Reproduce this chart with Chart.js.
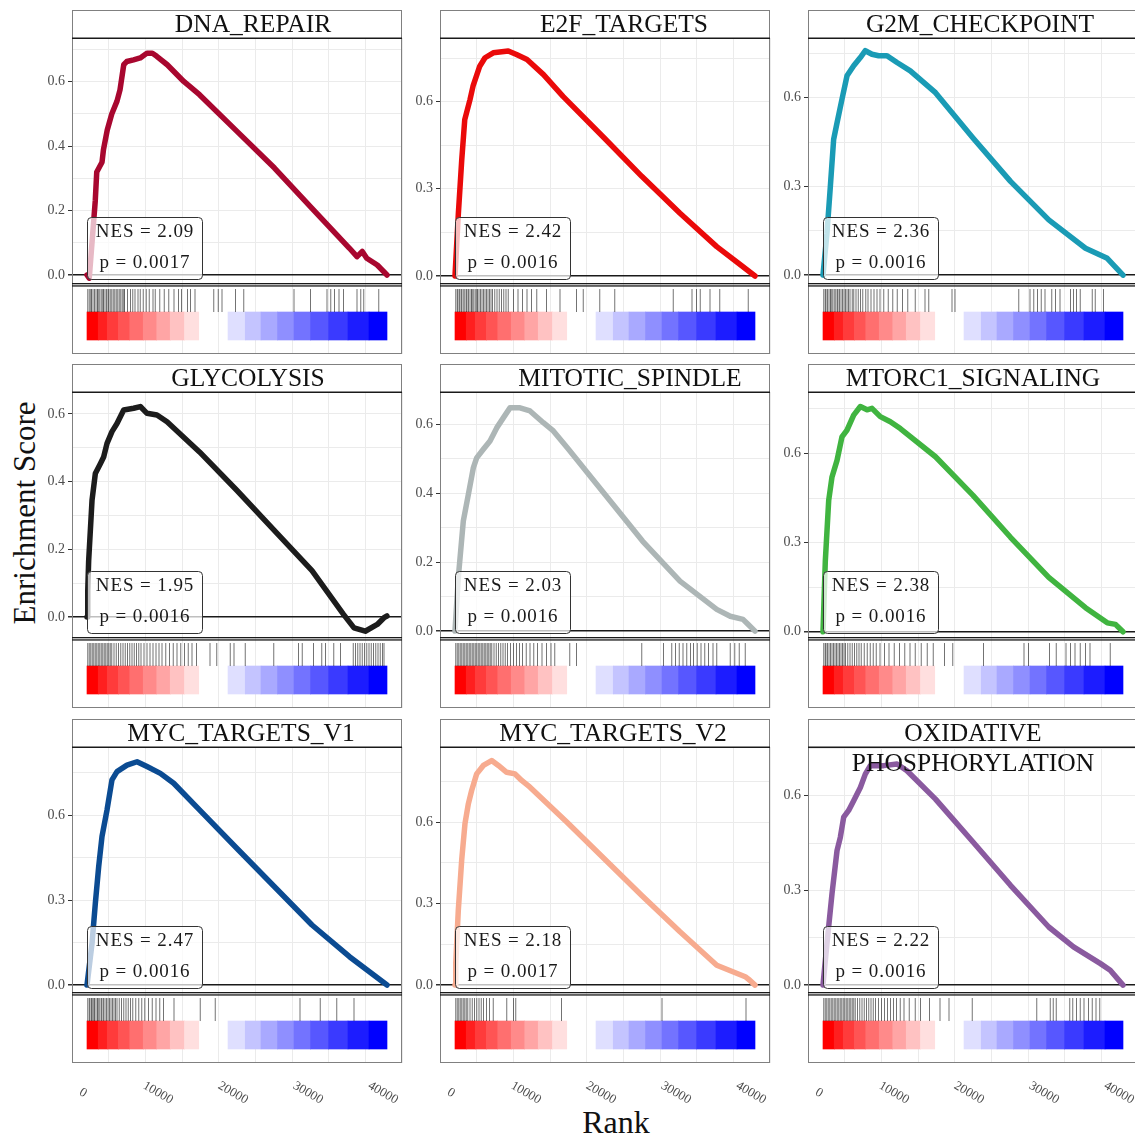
<!DOCTYPE html>
<html lang="en">
<head>
<meta charset="UTF-8">
<title>GSEA hallmark enrichment plots</title>
<script src="https://cdn.jsdelivr.net/npm/chart.js@4"></script>
<style>
  html, body { margin: 0; padding: 0; background: #fff; overflow: hidden; }
  body { width: 1135px; height: 1137px; position: relative; }
  canvas { position: absolute; }
  .axis-title { position: absolute; font-family: "Liberation Serif", serif; color: #111; white-space: nowrap; }
  #ylab { left: 25px; top: 513px; font-size: 31px; transform: translate(-50%, -50%) rotate(-90deg); }
  #xlab { left: 616px; top: 1122px; font-size: 32px; transform: translate(-50%, -50%); }
</style>
</head>
<body>
<div id="ylab" class="axis-title">Enrichment Score</div>
<div id="xlab" class="axis-title">Rank</div>
<script>
// gene sets, in panel order (left to right, top to bottom)
const titles = ['DNA_REPAIR', 'E2F_TARGETS', 'G2M_CHECKPOINT', 'GLYCOLYSIS', 'MITOTIC_SPINDLE',
  'MTORC1_SIGNALING', 'MYC_TARGETS_V1', 'MYC_TARGETS_V2', 'OXIDATIVE\nPHOSPHORYLATION'];
const nesValues = ['2.09', '2.42', '2.36', '1.95', '2.03', '2.38', '2.47', '2.18', '2.22'];
const pValues = ['0.0017', '0.0016', '0.0016', '0.0016', '0.0016', '0.0016', '0.0016', '0.0017', '0.0016'];
const curveColors = ['#a8072f', '#ea0a0a', '#1a9bb5', '#1c1c1c', '#adb6b6', '#40b440', '#0b4b92', '#f7ab8f', '#8a5a9f'];

// running enrichment score: [rank, ES]
const esDnaRepair = [[0,0],[300,-0.01],[700,0.11],[1100,0.23],[1300,0.32],[2000,0.35],[2200,0.39],[2700,0.45],[3300,0.50],[4000,0.54],[4400,0.575],[4900,0.653],[5300,0.663],[6200,0.668],[7100,0.674],[8000,0.689],[8700,0.689],[9300,0.679],[10700,0.653],[12900,0.601],[15000,0.560],[20000,0.446],[25000,0.332],[30000,0.207],[35000,0.083],[36000,0.057],[36700,0.073],[37300,0.052],[38700,0.031],[40000,0]];
const esE2f = [[0,0],[450,0.216],[900,0.40],[1300,0.538],[2000,0.607],[2400,0.653],[3300,0.722],[4000,0.751],[5100,0.768],[7100,0.774],[8200,0.762],[9600,0.745],[11800,0.693],[14400,0.618],[19900,0.475],[24900,0.343],[30000,0.216],[34900,0.101],[38400,0.032],[40000,0]];
const esG2m = [[0,0],[530,0.142],[980,0.30],[1420,0.459],[1870,0.515],[2530,0.595],[3200,0.674],[4090,0.708],[4980,0.736],[5640,0.759],[6530,0.747],[7420,0.742],[8530,0.742],[9870,0.719],[11640,0.691],[15000,0.617],[20000,0.464],[25000,0.317],[30100,0.187],[35000,0.091],[37900,0.057],[40000,0]];
const esGlycolysis = [[0,0],[100,0.077],[220,0.166],[670,0.345],[1110,0.424],[1780,0.453],[2220,0.473],[2670,0.513],[3330,0.548],[4000,0.572],[4890,0.612],[6220,0.617],[7110,0.622],[8000,0.602],[9330,0.597],[10670,0.577],[15000,0.488],[20000,0.374],[25000,0.255],[30000,0.137],[34200,0.008],[35600,-0.032],[37100,-0.042],[38700,-0.022],[39600,-0.002],[40000,0.003]];
const esMitotic = [[0,0],[440,0.155],[1110,0.319],[1780,0.396],[2440,0.473],[2890,0.502],[3780,0.527],[4670,0.551],[5560,0.589],[6440,0.618],[7330,0.647],[8670,0.647],[10000,0.638],[11780,0.604],[13110,0.580],[15000,0.531],[20000,0.396],[25000,0.261],[30000,0.145],[34900,0.063],[36700,0.043],[38400,0.034],[39100,0.019],[40000,0]];
const esMtorc1 = [[0,0],[310,0.239],[760,0.442],[1200,0.521],[1870,0.577],[2530,0.656],[3200,0.679],[4090,0.729],[4980,0.758],[5870,0.747],[6530,0.752],[7640,0.724],[8980,0.707],[10310,0.684],[15000,0.589],[20000,0.459],[25000,0.318],[30100,0.183],[35000,0.081],[37900,0.030],[39000,0.025],[40000,0]];
const esMycV1 = [[0,0],[670,0.147],[1110,0.288],[1560,0.418],[2000,0.524],[2670,0.618],[3330,0.724],[4000,0.753],[5330,0.776],[6670,0.788],[8000,0.771],[9780,0.747],[11560,0.712],[15000,0.618],[20000,0.482],[25000,0.347],[30000,0.212],[35000,0.10],[40000,0]];
const esMycV2 = [[0,0],[100,0.08],[440,0.275],[890,0.459],[1330,0.594],[1780,0.667],[2220,0.716],[2890,0.777],[3780,0.808],[4890,0.826],[5780,0.808],[6890,0.783],[8000,0.777],[8890,0.753],[10000,0.728],[14900,0.600],[19900,0.465],[24900,0.330],[30000,0.196],[34900,0.073],[38700,0.031],[39300,0.018],[40000,0]];
const esOxphos = [[0,0],[530,0.132],[1200,0.289],[1870,0.426],[2310,0.468],[2760,0.532],[3420,0.553],[4090,0.584],[4980,0.626],[5640,0.668],[6310,0.695],[8090,0.695],[9870,0.70],[11200,0.679],[15000,0.589],[20000,0.453],[25000,0.316],[30100,0.184],[33400,0.121],[37000,0.068],[38300,0.047],[40000,0]];
const esSeries = [esDnaRepair, esE2f, esG2m, esGlycolysis, esMitotic, esMtorc1, esMycV1, esMycV2, esOxphos];

// gene set members along the ranked list (rank in thousands)
const hitsDnaRepair = [0.1,0.3,0.5,0.6,0.8,1.0,1.2,1.4,1.5,1.7,1.9,2.1,2.2,2.4,2.6,2.8,2.9,3.1,3.3,3.5,3.7,3.9,4.1,4.3,4.5,4.7,4.9,5.0,5.4,5.8,6.1,6.4,6.8,7.1,7.5,7.9,8.3,8.8,9.1,9.7,10.3,10.9,11.6,12.2,12.6,13.4,13.8,14.4,16.9,17.5,18.0,19.8,20.9,27.6,29.8,32.0,32.5,33.0,33.6,34.2,36.0,36.5,36.9,38.9];
const hitsE2f = [0.1,0.3,0.4,0.6,0.8,0.9,1.1,1.3,1.5,1.6,1.8,2.0,2.2,2.3,2.5,2.7,2.9,3.0,3.2,3.4,3.6,3.8,4.0,4.2,4.4,4.6,4.8,5.0,5.3,5.6,5.9,6.2,6.5,6.8,7.1,7.8,8.4,9.0,9.6,10.2,10.9,12.2,14.0,16.2,17.1,19.3,21.3,29.1,31.6,32.2,32.7,34.0,35.3,39.1];
const hitsG2m = [0.1,0.3,0.4,0.6,0.8,1.0,1.1,1.3,1.5,1.7,1.9,2.0,2.2,2.4,2.6,2.8,3.0,3.2,3.4,3.6,3.9,4.1,4.4,4.7,5.0,5.3,5.7,6.0,6.4,6.8,7.2,7.6,8.1,8.7,9.3,9.9,10.6,11.3,12.3,13.6,14.1,17.2,17.6,26.1,27.6,28.1,28.6,29.1,29.6,30.5,31.0,31.6,33.0,33.4,33.8,34.3,35.9,36.3,37.4];
const hitsGlycolysis = [0.1,0.3,0.5,0.7,0.9,1.1,1.3,1.5,1.7,1.9,2.1,2.3,2.5,2.7,2.9,3.1,3.3,3.6,3.9,4.2,4.5,4.8,5.1,5.4,5.7,6.0,6.3,6.6,6.9,7.2,7.6,8.0,8.4,8.8,9.2,9.6,10.0,10.5,11.0,11.5,12.0,12.5,13.0,13.5,14.0,14.6,16.4,17.3,19.1,19.6,21.1,24.9,28.2,28.7,30.2,31.3,31.8,32.9,33.8,35.5,35.8,36.1,36.4,36.7,37.0,37.3,37.6,37.9,38.2,38.5,38.8,39.1,39.4,39.6];
const hitsMitotic = [0.1,0.3,0.5,0.7,0.9,1.1,1.3,1.5,1.7,1.9,2.1,2.3,2.5,2.7,2.9,3.1,3.3,3.5,3.7,3.9,4.1,4.3,4.5,4.7,4.9,5.2,5.5,5.8,6.1,6.4,6.7,7.0,7.4,7.8,8.2,8.6,9.0,9.5,10.0,10.5,11.0,11.6,12.2,12.8,13.3,15.3,16.2,24.9,27.8,28.9,29.4,29.9,30.4,30.9,31.4,31.8,32.3,32.8,33.3,33.8,34.4,34.9,36.7,37.3,37.9,38.7];
const hitsMtorc1 = [0.1,0.3,0.4,0.6,0.8,1.0,1.2,1.4,1.6,1.8,2.0,2.2,2.4,2.6,2.8,3.0,3.3,3.6,3.9,4.2,4.5,4.8,5.1,5.5,5.9,6.3,6.7,7.1,7.6,8.2,8.8,9.5,10.2,10.9,11.6,12.3,13.1,13.9,14.7,16.2,17.3,21.4,26.8,27.4,30.2,31.1,32.4,33.0,33.6,34.3,35.0,35.6,38.3];
const hitsMycV1 = [0.1,0.3,0.4,0.6,0.7,0.9,1.0,1.2,1.4,1.5,1.7,1.9,2.0,2.2,2.4,2.6,2.8,3.0,3.2,3.4,3.6,3.8,4.0,4.3,4.6,4.9,5.2,5.5,5.8,6.1,6.5,6.9,7.3,7.7,8.2,8.7,9.2,9.7,10.2,11.6,15.1,17.1,28.4,31.1,33.3,35.6];
const hitsMycV2 = [0.1,0.3,0.5,0.7,0.9,1.1,1.3,1.5,1.7,2.0,2.3,2.6,2.9,3.2,3.5,3.8,4.2,4.6,5.1,6.9,7.8,8.1,14.2,27.6,38.8];
const hitsOxphos = [0.1,0.3,0.5,0.7,0.9,1.1,1.3,1.5,1.7,1.9,2.1,2.3,2.5,2.7,2.9,3.1,3.3,3.5,3.7,3.9,4.1,4.3,4.6,4.9,5.2,5.5,5.8,6.1,6.4,6.7,7.0,7.4,7.8,8.2,8.6,9.0,9.4,9.8,10.3,10.8,11.5,12.3,13.0,14.2,15.6,16.8,19.9,28.5,30.3,30.7,31.1,32.9,33.3,33.8,34.3,34.8,35.4,35.9,36.4,36.9];
const hitSeries = [hitsDnaRepair, hitsE2f, hitsG2m, hitsGlycolysis, hitsMitotic, hitsMtorc1, hitsMycV1, hitsMycV2, hitsOxphos];

// ranked-list colour bar: bins of the ranked metric
const binStart = [0,1500,2700,4200,5700,7500,9300,11100,13000, 18800,21100,23200,25400,27600,29800,32200,34800,37600];
const binEnd   = [1500,2700,4200,5700,7500,9300,11100,13000,14900, 21100,23200,25400,27600,29800,32200,34800,37600,40000];
const binColors = ['#ff0000','#ff1f1f','#ff3b3b','#ff5454','#ff6f6f','#ff8a8a','#ffa5a5','#ffc2c2','#ffdfdf',
  '#dfdfff','#c4c4ff','#a9a9ff','#8f8fff','#7373ff','#5757ff','#3a3aff','#1c1cff','#0000ff'];

// y axis of each panel (scales are free)
const yMin = [-0.028, -0.0275, -0.030, -0.062, -0.02, -0.021, -0.028, -0.029, -0.025];
const yMax = [0.736, 0.819, 0.802, 0.665, 0.693, 0.807, 0.840, 0.876, 0.754];
const yMajor = [0.2, 0.3, 0.3, 0.2, 0.2, 0.3, 0.3, 0.3, 0.3];
const xTicks = [0, 10000, 20000, 30000, 40000];

// layout
const colLeft = [72, 440, 808];
const rowTop = [10, 364, 719];
const titleShift = [16, 19, 7, 11, 25, 0, 4, 8, 0];
const STRIP = 28, ES_H = 246, LOW_H = 70, AXIS_W = 36, PANEL_W = 330;
const RUG_Y = 0.764, BAR_Y = 0.4;
const SERIF = '"Liberation Serif", "DejaVu Serif", serif';

Chart.defaults.font.family = SERIF;
Chart.defaults.plugins.legend.display = false;
Chart.defaults.plugins.tooltip.enabled = false;

const near = (a, b) => Math.abs(a - b) < 1e-7;
const isMajor = (v, step) => near(v / step, Math.round(v / step));

// fixed axis sizes, no label overflow padding, so every panel lines up
function fixVertical(s) { s.width = AXIS_W; s.paddingTop = 0; s.paddingBottom = 0; }

function makePanel(i) {
  const col = i % 3, row = Math.floor(i / 3), bottomRow = row === 2;
  const cv = document.createElement('canvas');
  cv.width = AXIS_W + PANEL_W + 1;
  cv.height = STRIP + ES_H + LOW_H + (bottomRow ? 50 : 1);
  cv.style.left = (colLeft[col] - AXIS_W) + 'px';
  cv.style.top = rowTop[row] + 'px';
  document.body.appendChild(cv);

  const panelPlugin = {
    id: 'panelDeco' + i,
    beforeDraw(chart) {
      const { ctx, chartArea: a } = chart;
      ctx.save();
      ctx.fillStyle = '#fff';
      ctx.fillRect(a.left, 0, a.right - a.left, a.top);
      ctx.restore();
    },
    afterDatasetsDraw(chart) {
      // NES / p-value label
      const { ctx } = chart;
      const xs = chart.scales.x, ys = chart.scales.y;
      const bw = 115, bh = 62;
      const bx = Math.round(xs.getPixelForValue(0)) + 0.5;
      const bt = Math.round(ys.bottom - 5 - bh) + 0.5;
      ctx.save();
      ctx.beginPath();
      ctx.roundRect(bx, bt, bw, bh, 4);
      ctx.fillStyle = 'rgba(255,255,255,0.72)';
      ctx.fill();
      ctx.strokeStyle = '#333';
      ctx.lineWidth = 1;
      ctx.stroke();
      ctx.fillStyle = '#1a1a1a';
      ctx.font = '19px ' + SERIF;
      ctx.textAlign = 'center';
      ctx.textBaseline = 'middle';
      ctx.letterSpacing = '0.9px';
      ctx.fillText('NES = ' + nesValues[i], bx + bw / 2, bt + 15);
      ctx.fillText('p = ' + pValues[i], bx + bw / 2, bt + 46);
      ctx.restore();
    },
    afterDraw(chart) {
      const { ctx, chartArea: a } = chart;
      const ys = chart.scales.y, xs = chart.scales.x;
      ctx.save();
      // panel + strip outline
      ctx.strokeStyle = '#808080';
      ctx.lineWidth = 1;
      ctx.strokeRect(a.left + 0.5, 0.5, a.right - a.left - 1, a.bottom - 1);
      // dark separators
      ctx.fillStyle = '#1a1a1a';
      ctx.fillRect(a.left, a.top - 0.5, a.right - a.left, 1.5);
      ctx.fillRect(a.left, ys.bottom - 1, a.right - a.left, 1.3);
      ctx.fillRect(a.left, ys.bottom + 1.3, a.right - a.left, 1.3);
      // strip title
      ctx.font = '25.5px ' + SERIF;
      ctx.textAlign = 'center';
      ctx.textBaseline = 'alphabetic';
      ctx.fillStyle = '#111';
      titles[i].split('\n').forEach((line, k) => {
        ctx.fillText(line, (a.left + a.right) / 2 + titleShift[i], 22 + k * 30);
      });
      // rank tick labels on the bottom row
      if (bottomRow) {
        ctx.font = '13px ' + SERIF;
        ctx.fillStyle = '#4d4d4d';
        ctx.textBaseline = 'middle';
        xTicks.forEach(v => {
          ctx.save();
          ctx.translate(xs.getPixelForValue(v) - 4, a.bottom + 30);
          ctx.rotate(Math.PI / 6);
          ctx.fillText(String(v), 0, 0);
          ctx.restore();
        });
      }
      ctx.restore();
    }
  };

  const step = yMajor[i];
  return new Chart(cv, {
    type: 'line',
    data: {
      datasets: [
        {
          type: 'line', label: 'ES',
          data: esSeries[i].map(([x, y]) => ({ x, y })),
          xAxisID: 'x', yAxisID: 'y',
          borderColor: curveColors[i], borderWidth: 5.5,
          borderJoinStyle: 'round', borderCapStyle: 'round',
          pointRadius: 0, tension: 0, fill: false
        },
        {
          type: 'scatter', label: 'hits',
          data: hitSeries[i].map(k => ({ x: k * 1000, y: RUG_Y })),
          xAxisID: 'x', yAxisID: 'y2',
          pointStyle: 'line', pointRotation: 90, pointRadius: 11.5, pointHoverRadius: 11.5,
          pointBorderColor: 'rgba(0,0,0,0.55)', pointBorderWidth: 1
        },
        {
          type: 'bar', label: 'ranked list', indexAxis: 'y',
          data: binStart.map((s, k) => ({ x: [s, binEnd[k]], y: BAR_Y })),
          xAxisID: 'x', yAxisID: 'y2',
          backgroundColor: binColors, borderWidth: 0, barThickness: 28
        }
      ]
    },
    options: {
      responsive: false,
      animation: false,
      events: [],
      layout: { autoPadding: false, padding: { top: STRIP, left: 0, right: 1, bottom: bottomRow ? 44 : 1 } },
      scales: {
        x: {
          type: 'linear', position: 'bottom', min: -2000, max: 42000,
          ticks: { stepSize: 5000, includeBounds: false, display: false },
          grid: {
            color: '#ebebeb', lineWidth: 1, drawTicks: bottomRow, tickLength: 6,
            tickColor: c => (c.tick && c.tick.value % 10000 === 0) ? '#333' : 'rgba(0,0,0,0)'
          },
          border: { display: false },
          afterFit: s => { s.height = bottomRow ? 6 : 0; s.paddingLeft = 0; s.paddingRight = 0; }
        },
        y: {
          type: 'linear', position: 'left', stack: 'panel', stackWeight: ES_H, weight: 1,
          min: yMin[i], max: yMax[i],
          ticks: {
            stepSize: step / 2, includeBounds: false, autoSkip: false, padding: 3,
            color: '#4d4d4d', font: { family: SERIF, size: 14 },
            callback: v => isMajor(v, step) ? v.toFixed(1) : ''
          },
          grid: {
            color: c => (c.tick && near(c.tick.value, 0)) ? '#1a1a1a' : '#ebebeb',
            lineWidth: c => (c.tick && near(c.tick.value, 0)) ? 1.5 : 1,
            tickLength: 4,
            tickColor: c => (c.tick && isMajor(c.tick.value, step)) ? '#333' : 'rgba(0,0,0,0)'
          },
          border: { display: false },
          afterFit: fixVertical
        },
        y2: {
          type: 'linear', axis: 'y', position: 'left', stack: 'panel', stackWeight: LOW_H, weight: 0,
          min: 0, max: 1, offset: false,
          ticks: { display: false },
          grid: { display: false, drawTicks: false, offset: false },
          border: { display: false },
          afterFit: fixVertical
        }
      }
    },
    plugins: [panelPlugin]
  });
}

titles.forEach((t, i) => makePanel(i));
</script>
</body>
</html>
